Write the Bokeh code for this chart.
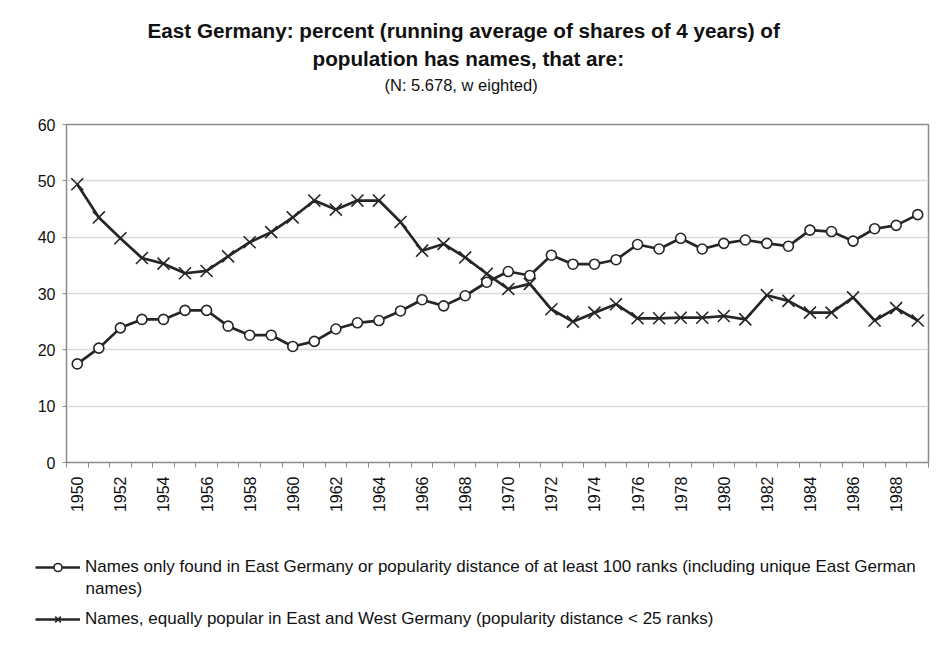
from math import pi
from bokeh.plotting import figure
from bokeh.layouts import column
from bokeh.models import Range1d, FixedTicker, Legend, LegendItem, Title, Label
from bokeh.embed import file_html
from bokeh.resources import INLINE

years = list(range(1950, 1990))
east_only = [17.5, 20.3, 23.9, 25.4, 25.4, 27.0, 27.0, 24.2, 22.6, 22.6,
             20.6, 21.5, 23.7, 24.8, 25.2, 26.9, 28.9, 27.8, 29.6, 32.0,
             33.9, 33.2, 36.8, 35.2, 35.2, 36.0, 38.7, 37.9, 39.8, 37.9,
             38.9, 39.5, 38.9, 38.4, 41.25, 41.0, 39.3, 41.5, 42.1, 44.0]
equal_pop = [49.4, 43.5, 39.8, 36.3, 35.3, 33.6, 34.0, 36.6, 39.1, 40.9,
             43.5, 46.5, 44.9, 46.5, 46.5, 42.7, 37.6, 38.8, 36.4, 33.5,
             30.8, 31.7, 27.2, 25.0, 26.6, 28.1, 25.6, 25.6, 25.7, 25.7,
             26.0, 25.4, 29.7, 28.7, 26.6, 26.6, 29.3, 25.2, 27.4, 25.2]
x_tick_years = list(range(1950, 1989, 2))
y_ticks = [0, 10, 20, 30, 40, 50, 60]

title_1 = "East Germany: percent (running average of shares of 4 years) of"
title_2 = "population  has names, that are:"
title_3 = "(N: 5.678, w eighted)"
label_1 = "Names only found in East Germany or popularity distance of at least 100 ranks (including unique East German"
label_1b = "names)"
label_2 = "Names, equally popular in East and West Germany (popularity distance < 25 ranks)"

FONT = "Liberation Sans"
DARK = "#262626"
GRAY = "#8c8c8c"
TXT = "#111111"
W = 935
H_MAIN = 520
H_LEG = 131

p = figure(width=W, height=H_MAIN, output_backend="svg", toolbar_location=None,
           x_range=Range1d(years[0] - 0.5, years[-1] + 0.5),
           y_range=Range1d(y_ticks[0], y_ticks[-1]),
           min_border_left=66, min_border_top=124, min_border_right=7,
           min_border_bottom=58)
p.frame_align = False
p.title.visible = False
p.background_fill_color = "white"
p.border_fill_color = "white"
p.outline_line_color = GRAY
p.outline_line_width = 1.5

line_kw = dict(line_color=DARK, line_width=2.7)
circ_kw = dict(marker="circle", size=10, fill_color="white", line_color=DARK,
               line_width=1.6)
x_kw = dict(marker="x", size=17, line_color=DARK, line_width=1.6)

p.line(years, east_only, **line_kw)
p.scatter(years, east_only, **circ_kw)
p.line(years, equal_pop, **line_kw)
p.scatter(years, equal_pop, **x_kw)

# axes
p.xaxis.ticker = FixedTicker(ticks=x_tick_years,
                             minor_ticks=[y - 0.5 for y in years] + [years[-1] + 0.5])
p.xaxis.major_label_orientation = pi / 2
p.xaxis.major_tick_out = 0
p.xaxis.major_tick_in = 0
p.xaxis.minor_tick_out = 5
p.xaxis.minor_tick_in = 0
p.xaxis.minor_tick_line_color = GRAY
p.xaxis.major_label_standoff = 9
p.xaxis.axis_line_color = GRAY
p.xaxis.major_label_text_font = FONT
p.xaxis.major_label_text_font_size = "16px"
p.xaxis.major_label_text_color = TXT

p.yaxis.ticker = FixedTicker(ticks=y_ticks)
p.yaxis.minor_tick_line_color = None
p.yaxis.major_tick_out = 4
p.yaxis.major_tick_in = 0
p.yaxis.major_tick_line_color = GRAY
p.yaxis.axis_line_color = GRAY
p.yaxis.major_label_standoff = 7
p.yaxis.major_label_text_font = FONT
p.yaxis.major_label_text_font_size = "16px"
p.yaxis.major_label_text_color = TXT

p.xgrid.visible = False
p.ygrid.grid_line_color = "#d9d9d9"
p.ygrid.grid_line_width = 1.5

# titles, nearest the plot first (first one is an empty spacer)
for txt, off, size, style, so in [(" ", 0, "19px", "normal", 6),
                                  (title_3, 318, "16.5px", "normal", 4),
                                  (title_2, 246, "20.7px", "bold", 4),
                                  (title_1, 81, "20.7px", "bold", 2)]:
    p.add_layout(Title(text=txt, align="left", offset=off, text_font=FONT,
                       text_font_size=size, text_font_style=style,
                       text_color=TXT, standoff=so), "above")

# legend panel (a frameless figure whose frame covers the whole panel)
lg = figure(width=W, height=H_LEG, output_backend="svg", toolbar_location=None,
            x_range=Range1d(0, W), y_range=Range1d(0, H_LEG),
            min_border=0, x_axis_type=None, y_axis_type=None)
lg.frame_align = False
lg.title.visible = False
lg.outline_line_color = None
lg.xgrid.visible = False
lg.ygrid.visible = False
lg.background_fill_color = "white"
lg.border_fill_color = "white"

l1 = lg.line(years, east_only, visible=False, **line_kw)
m1 = lg.scatter(years, east_only, visible=False, **circ_kw)
l2 = lg.line(years, equal_pop, visible=False, **line_kw)
m2 = lg.scatter(years, equal_pop, visible=False, **x_kw)

leg_kw = dict(padding=0, margin=0, glyph_width=45, glyph_height=20,
              label_height=20, label_standoff=5, border_line_color=None,
              background_fill_alpha=0, label_text_font=FONT,
              label_text_font_size="17px", label_text_color=TXT, spacing=0)
lg.add_layout(Legend(items=[LegendItem(label=label_1, renderers=[l1, m1])],
                     location=(35, 74), **leg_kw))
lg.add_layout(Legend(items=[LegendItem(label=label_2, renderers=[l2, m2])],
                     location=(35, 22), **leg_kw))
lg.add_layout(Label(x=85, y=63, text=label_1b, text_align="left",
                    text_baseline="middle", text_font=FONT,
                    text_font_size="17px", text_color=TXT))

open("out.html", "w").write(file_html(column(p, lg, spacing=0), INLINE))
